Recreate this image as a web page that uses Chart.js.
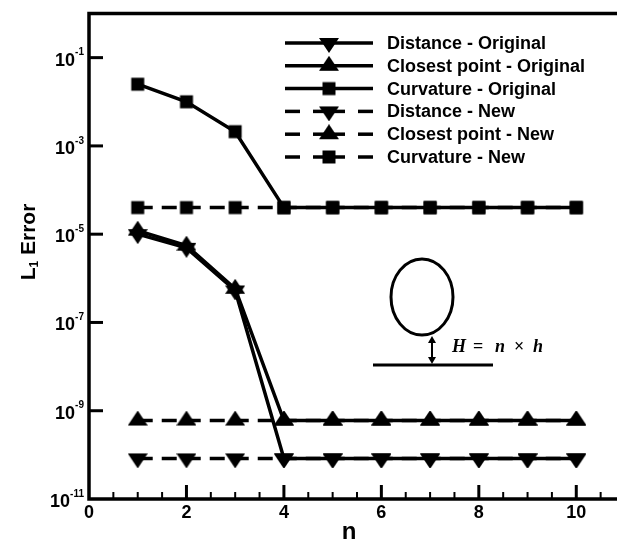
<!DOCTYPE html>
<html>
<head>
<meta charset="utf-8">
<script src="https://cdn.jsdelivr.net/npm/chart.js@4/dist/chart.umd.min.js"></script>
<style>
  html, body { margin: 0; padding: 0; background: #fff; overflow: hidden; }
  #wrap { width: 617px; height: 542px; overflow: hidden; }
</style>
</head>
<body>
<div id="wrap"><canvas id="errChart" width="640" height="542"></canvas></div>
<script>
// data
const nValues = [1, 2, 3, 4, 5, 6, 7, 8, 9, 10];
const distanceOriginal = [1.0e-5, 4.9e-6, 5.3e-7, 8.3e-11, 8.3e-11, 8.3e-11, 8.3e-11, 8.3e-11, 8.3e-11, 8.3e-11];
const closestOriginal = [1.2e-5, 5.5e-6, 5.8e-7, 6.0e-10, 6.0e-10, 6.0e-10, 6.0e-10, 6.0e-10, 6.0e-10, 6.0e-10];
const curvatureOriginal = [2.5e-2, 1.0e-2, 2.1e-3, 4.0e-5, 4.0e-5, 4.0e-5, 4.0e-5, 4.0e-5, 4.0e-5, 4.0e-5];
const distanceNew = [8.3e-11, 8.3e-11, 8.3e-11, 8.3e-11, 8.3e-11, 8.3e-11, 8.3e-11, 8.3e-11, 8.3e-11, 8.3e-11];
const closestNew = [6.0e-10, 6.0e-10, 6.0e-10, 6.0e-10, 6.0e-10, 6.0e-10, 6.0e-10, 6.0e-10, 6.0e-10, 6.0e-10];
const curvatureNew = [4.0e-5, 4.0e-5, 4.0e-5, 4.0e-5, 4.0e-5, 4.0e-5, 4.0e-5, 4.0e-5, 4.0e-5, 4.0e-5];

const seriesLabels = [
    'Distance - Original', 'Closest point - Original', 'Curvature - Original',
    'Distance - New', 'Closest point - New', 'Curvature - New'
];
const yTickExponents = [-1, -3, -5, -7, -9, -11];
const xTickLabels = [0, 2, 4, 6, 8, 10];
const xMinorStep = 0.5;

// marker images (tecplot style flat triangles, centred on centroid)
function makeMarker(kind) {
    const c = document.createElement('canvas');
    c.width = 20; c.height = 20;
    const g = c.getContext('2d');
    g.fillStyle = '#000';
    g.beginPath();
    if (kind === 'up') {
        g.moveTo(10, 0); g.lineTo(20, 15); g.lineTo(0, 15);
    } else if (kind === 'down') {
        g.moveTo(0, 5); g.lineTo(20, 5); g.lineTo(10, 20);
    } else {
        g.rect(3.5, 3.5, 13, 13);
    }
    g.closePath();
    g.fill();
    return c;
}
const markerDown = makeMarker('down');
const markerUp = makeMarker('up');
const markerSquare = makeMarker('square');

function toPoints(vals) {
    return vals.map((v, i) => ({ x: nValues[i], y: v }));
}

function series(label, vals, marker, dashed) {
    return {
        label: label,
        data: toPoints(vals),
        borderColor: '#000',
        backgroundColor: '#000',
        borderWidth: 3.5,
        borderDash: dashed ? [15, 9] : [],
        pointStyle: marker,
        pointRadius: 10,
        tension: 0,
        fill: false
    };
}

// draws the frame, inward ticks, labels, legend and the little sketch
const tecplotLook = {
    id: 'tecplotLook',
    afterDraw(chart) {
        const c = chart.ctx;
        const a = chart.chartArea;
        const xs = chart.scales.x;
        const ys = chart.scales.y;
        c.save();
        c.strokeStyle = '#000';
        c.fillStyle = '#000';
        c.setLineDash([]);

        function seg(x1, y1, x2, y2, w) {
            c.lineWidth = w;
            c.beginPath(); c.moveTo(x1, y1); c.lineTo(x2, y2); c.stroke();
        }

        // frame
        c.lineWidth = 3.5;
        c.strokeRect(a.left, a.top, a.right - a.left, a.bottom - a.top);

        // y axis ticks + labels
        yTickExponents.forEach(e => {
            const y = ys.getPixelForValue(Math.pow(10, e));
            if (y < a.bottom - 2) seg(a.left, y, a.left + 14, y, 3);
            const sup = String(e);
            c.textBaseline = 'middle';
            c.textAlign = 'right';
            c.font = 'bold 10px "Liberation Sans", Arial, sans-serif';
            const supW = c.measureText(sup).width;
            c.fillText(sup, a.left - 5, y - 5);
            c.font = 'bold 18px "Liberation Sans", Arial, sans-serif';
            c.fillText('10', a.left - 5 - supW, y + 3);
        });

        // x axis ticks + labels
        for (let v = 0; v <= xs.max + 1e-9; v += xMinorStep) {
            const x = xs.getPixelForValue(v);
            if (x <= a.left + 2) continue;
            const major = Math.abs(v / 2 - Math.round(v / 2)) < 1e-9;
            seg(x, a.bottom, x, a.bottom - (major ? 14 : 7), major ? 3 : 2);
        }
        c.font = 'bold 18px "Liberation Sans", Arial, sans-serif';
        c.textAlign = 'center';
        c.textBaseline = 'middle';
        xTickLabels.forEach(v => {
            c.fillText(String(v), xs.getPixelForValue(v), a.bottom + 14);
        });

        // axis titles
        c.font = 'bold 24px "Liberation Sans", Arial, sans-serif';
        c.fillText('n', 349, 532);

        c.save();
        c.translate(29, 242);
        c.rotate(-Math.PI / 2);
        c.font = 'bold 21px "Liberation Sans", Arial, sans-serif';
        const wL = c.measureText('L').width;
        c.font = 'bold 12px "Liberation Sans", Arial, sans-serif';
        const w1 = c.measureText('1').width;
        c.font = 'bold 21px "Liberation Sans", Arial, sans-serif';
        const wE = c.measureText(' Error').width;
        let tx = -(wL + w1 + wE) / 2;
        c.textAlign = 'left';
        c.textBaseline = 'middle';
        c.fillText('L', tx, 0);
        c.font = 'bold 12px "Liberation Sans", Arial, sans-serif';
        c.fillText('1', tx + wL, 6);
        c.font = 'bold 21px "Liberation Sans", Arial, sans-serif';
        c.fillText(' Error', tx + wL + w1, 0);
        c.restore();

        // legend
        const markers = [markerDown, markerUp, markerSquare, markerDown, markerUp, markerSquare];
        const lx0 = 285, lx1 = 373, lxm = 329;
        c.font = 'bold 18px "Liberation Sans", Arial, sans-serif';
        c.textAlign = 'left';
        c.textBaseline = 'middle';
        seriesLabels.forEach((lab, i) => {
            const y = 43 + i * 22.8;
            if (i < 3) {
                seg(lx0, y, lx1, y, 3.5);
            } else {
                seg(lx0, y, lx0 + 15, y, 3.5);
                seg(lxm - 16, y, lxm + 16, y, 3.5);
                seg(lx1 - 15, y, lx1, y, 3.5);
            }
            c.drawImage(markers[i], lxm - 10, y - 10);
            c.fillText(lab, 387, y + 1);
        });

        // sketch: circle above a wall, gap H
        c.lineWidth = 3;
        c.beginPath();
        c.ellipse(422, 297, 31, 38, 0, 0, Math.PI * 2);
        c.stroke();
        seg(373, 365, 493, 365, 3);
        seg(432, 341, 432, 360, 2);
        c.beginPath();
        c.moveTo(432, 336); c.lineTo(428, 343); c.lineTo(436, 343); c.closePath(); c.fill();
        c.beginPath();
        c.moveTo(432, 364); c.lineTo(428, 357); c.lineTo(436, 357); c.closePath(); c.fill();

        c.textAlign = 'left';
        c.textBaseline = 'alphabetic';
        c.font = 'italic bold 18px "Liberation Serif", "DejaVu Serif", serif';
        c.fillText('H', 452, 352);
        c.fillText('n', 495, 352);
        c.fillText('h', 533, 352);
        c.font = 'bold 18px "Liberation Serif", "DejaVu Serif", serif';
        c.fillText('=', 473, 352);
        c.fillText('\u00d7', 514, 352);

        c.restore();
    }
};

const ctx = document.getElementById('errChart').getContext('2d');
new Chart(ctx, {
    type: 'line',
    data: {
        datasets: [
            series(seriesLabels[0], distanceOriginal, markerDown, false),
            series(seriesLabels[1], closestOriginal, markerUp, false),
            series(seriesLabels[2], curvatureOriginal, markerSquare, false),
            series(seriesLabels[3], distanceNew, markerDown, true),
            series(seriesLabels[4], closestNew, markerUp, true),
            series(seriesLabels[5], curvatureNew, markerSquare, true)
        ]
    },
    options: {
        responsive: false,
        animation: false,
        devicePixelRatio: 1,
        layout: { padding: { left: 89, top: 11, right: 15, bottom: 43 } },
        scales: {
            x: { type: 'linear', min: 0, max: 11, display: false },
            y: { type: 'logarithmic', min: 1e-11, max: 1, display: false }
        },
        plugins: {
            legend: { display: false },
            tooltip: { enabled: false }
        }
    },
    plugins: [tecplotLook]
});
</script>
</body>
</html>
